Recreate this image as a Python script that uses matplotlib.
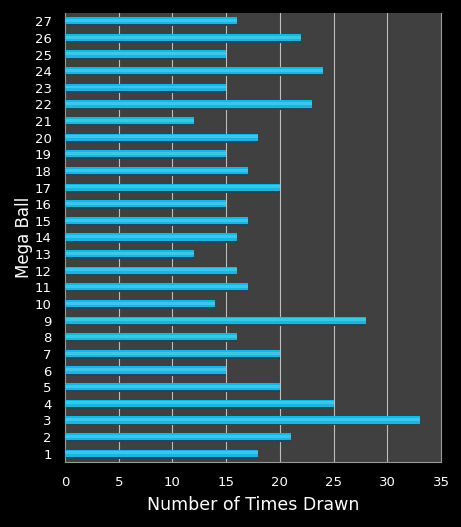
import numpy as np
import matplotlib.pyplot as plt

balls = list(range(1, 28))
times_drawn = [18, 21, 33, 25, 20, 15, 20, 16, 28, 14, 17, 16, 12, 16, 17,
               15, 20, 17, 15, 18, 12, 23, 15, 24, 15, 22, 16]

fig = plt.figure(figsize=(4.61, 5.27), dpi=100, facecolor="black")
ax = fig.add_axes([65 / 461, 65 / 527, 376 / 461, 449 / 527])
ax.set_facecolor("#404040")

y = np.array(balls)
# dark base (bottom edge shading), main cyan body, soft highlight
ax.barh(y - 0.03, times_drawn, height=0.55, color="#0b4e66", zorder=2)
ax.barh(y + 0.03, times_drawn, height=0.43, color="#1ab6e0", zorder=3)
ax.barh(y + 0.05, times_drawn, height=0.18, color="#3cc6ee", zorder=4)

ax.set_xlim(0, 35)
ax.set_ylim(0.5, 27.5)
ax.set_xticks(range(0, 36, 5))
ax.set_yticks(balls)
ax.set_yticklabels([str(b) for b in balls])

for xv in range(5, 35, 5):
    ax.axvline(xv, color="#bdbdbd", linewidth=0.8, zorder=1)

for side in ["top", "right", "bottom", "left"]:
    ax.spines[side].set_color("#9a9a9a")
    ax.spines[side].set_linewidth(0.8)
ax.spines["top"].set_visible(False)

ax.tick_params(axis="both", colors="white", length=0, labelsize=9.5)
ax.tick_params(axis="x", pad=10)
ax.tick_params(axis="y", pad=9.5)

ax.set_xlabel("Number of Times Drawn", color="white", fontsize=12.5, labelpad=5)
ax.set_ylabel("Mega Ball", color="white", fontsize=12)
ax.yaxis.set_label_coords(-0.085, 0.5)

fig.savefig("out.png", dpi=100, facecolor="black")
